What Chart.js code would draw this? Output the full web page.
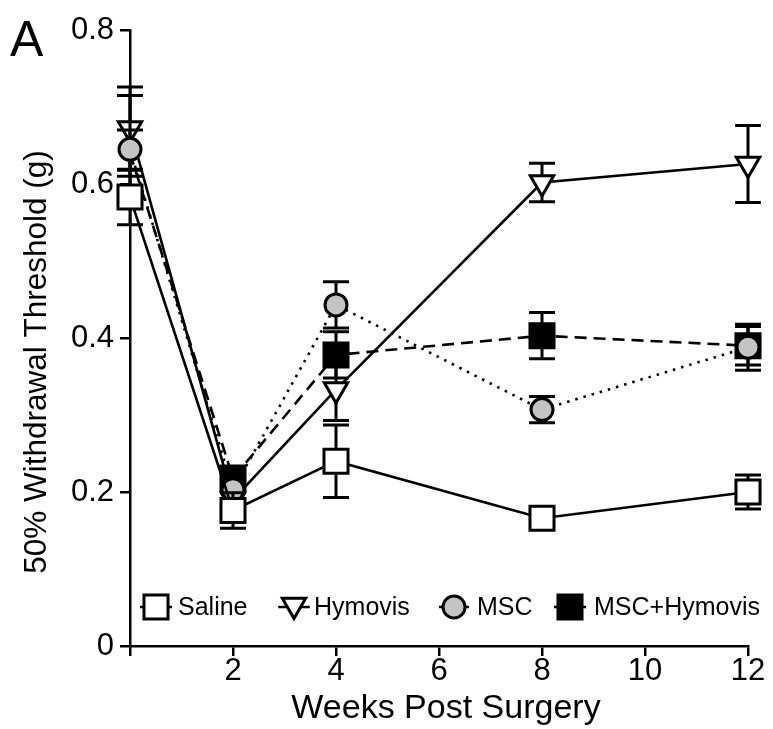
<!DOCTYPE html>
<html><head><meta charset="utf-8">
<script src="https://cdn.jsdelivr.net/npm/chart.js@4/dist/chart.umd.min.js"></script>
<style>html,body{margin:0;padding:0;background:#fff}#wrap{width:773px;height:729px}</style>
</head><body><div id="wrap"><canvas id="c" width="773" height="729"></canvas></div>
<script>
// ---- data ----
const weeks = [0, 2, 4, 8, 12];
const salineVals   = [0.583, 0.176, 0.240, 0.166, 0.200];
const salineErr    = [0.036, 0.023, 0.047, 0.010, 0.022];
const hymovisVals  = [0.672, 0.190, 0.333, 0.602, 0.626];
const hymovisErr   = [0.054, 0.015, 0.040, 0.025, 0.050];
const mscVals      = [0.645, 0.203, 0.443, 0.307, 0.388];
const mscErr       = [0.070, 0.015, 0.030, 0.017, 0.030];
const mscHyVals    = [0.640, 0.218, 0.378, 0.403, 0.390];
const mscHyErr     = [0.030, 0.015, 0.030, 0.030, 0.025];
const seriesNames  = ['Saline', 'Hymovis', 'MSC', 'MSC+Hymovis'];
const xTickValues  = [0, 2, 4, 6, 8, 10, 12];
const yTickValues  = [0, 0.2, 0.4, 0.6, 0.8];
const xTitle = 'Weeks Post Surgery';
const yTitle = '50% Withdrawal Threshold (g)';
const panelLabel = 'A';

const FONT = "'Liberation Sans', Arial, Helvetica, sans-serif";
const toPts = (vals) => vals.map((v, i) => ({x: weeks[i], y: v}));

// legend layout (pixel positions of marker centres and text starts)
const legendMarkerX = [156, 294, 454, 570];
const legendTextX   = [178, 314, 477, 594];
const legendY = 607;

const datasets = [
  {label: seriesNames[0], data: toPts(salineVals), err: salineErr, order: 0,
   pointStyle: 'rect', pointRadius: 17, pointBackgroundColor: '#ffffff', borderDash: []},
  {label: seriesNames[1], data: toPts(hymovisVals), err: hymovisErr, order: 3,
   pointStyle: 'triangle', pointRotation: 180, pointRadius: 13.5, pointBackgroundColor: '#ffffff', borderDash: []},
  {label: seriesNames[2], data: toPts(mscVals), err: mscErr, order: 1,
   pointStyle: 'circle', pointRadius: 11, pointBackgroundColor: '#c4c4c4', borderDash: [2.5, 6]},
  {label: seriesNames[3], data: toPts(mscHyVals), err: mscHyErr, order: 2,
   pointStyle: 'rect', pointRadius: (c) => c.dataIndex === 0 ? 0 : 17, pointBackgroundColor: '#000000', borderDash: [12, 7]}
].map(d => Object.assign({
  borderColor: '#000', pointBorderColor: '#000', borderWidth: 2.6, pointBorderWidth: 3,
  tension: 0, fill: false, showLine: true, pointHoverRadius: 0, clip: false
}, d));

const errorBars = {
  id: 'errorBars',
  beforeDatasetDraw(chart, args) {
    const ds = chart.data.datasets[args.index];
    const ys = chart.scales.y, ctx = chart.ctx;
    ctx.save();
    ctx.strokeStyle = '#000'; ctx.lineWidth = 3; ctx.setLineDash([]);
    args.meta.data.forEach((pt, i) => {
      const v = ds.data[i].y, e = ds.err[i];
      const top = ys.getPixelForValue(v + e), bot = ys.getPixelForValue(v - e);
      const x = pt.x, cw = 13;
      ctx.beginPath();
      ctx.moveTo(x, top); ctx.lineTo(x, bot);
      ctx.moveTo(x - cw, top); ctx.lineTo(x + cw, top);
      ctx.moveTo(x - cw, bot); ctx.lineTo(x + cw, bot);
      ctx.stroke();
    });
    ctx.restore();
  }
};

const decorations = {
  id: 'decorations',
  afterDraw(chart) {
    const ctx = chart.ctx;
    ctx.save();
    ctx.fillStyle = '#000';
    // panel label
    ctx.font = '50px ' + FONT; ctx.textAlign = 'left'; ctx.textBaseline = 'alphabetic';
    ctx.fillText(panelLabel, 10, 56);
    // x title
    ctx.font = '34px ' + FONT; ctx.textAlign = 'center';
    ctx.fillText(xTitle, 446, 718);
    // y title
    ctx.save();
    ctx.translate(46, 362); ctx.rotate(-Math.PI / 2);
    ctx.font = '31.5px ' + FONT; ctx.textAlign = 'center'; ctx.textBaseline = 'alphabetic';
    ctx.fillText(yTitle, 0, 0);
    ctx.restore();
    // legend inside plot area
    ctx.font = '25px ' + FONT; ctx.textBaseline = 'middle'; ctx.textAlign = 'left';
    chart.data.datasets.forEach((ds, i) => {
      const r = typeof ds.pointRadius === 'function' ? 17 : ds.pointRadius;
      const half = ds.pointStyle === 'rect' ? r * Math.SQRT1_2 : (ds.pointStyle === 'circle' ? r : r * 0.87);
      const cx = legendMarkerX[i];
      ctx.save();
      ctx.strokeStyle = '#000'; ctx.lineWidth = 2.5;
      ctx.beginPath(); ctx.moveTo(cx - half - 4, legendY); ctx.lineTo(cx + half + 4, legendY); ctx.stroke();
      ctx.fillStyle = ds.pointBackgroundColor; ctx.lineWidth = 3;
      Chart.helpers.drawPoint(ctx, {pointStyle: ds.pointStyle, radius: r, rotation: ds.pointRotation || 0, borderWidth: 3}, cx, legendY + (ds.pointStyle === 'triangle' ? -2 : 0));
      ctx.restore();
      ctx.fillStyle = '#000';
      ctx.fillText(ds.label, legendTextX[i], legendY + 1);
    });
    ctx.restore();
  }
};

new Chart(document.getElementById('c'), {
  type: 'scatter',
  data: {datasets},
  plugins: [errorBars, decorations],
  options: {
    responsive: false, animation: false, devicePixelRatio: 1,
    layout: {padding: {top: 30, right: 25, left: 0, bottom: 0}},
    plugins: {legend: {display: false}, tooltip: {enabled: false}},
    scales: {
      x: {
        type: 'linear', min: 0, max: 12,
        afterBuildTicks: (s) => { s.ticks = xTickValues.map(v => ({value: v})); },
        afterFit: (s) => { s.height = 83; },
        ticks: {color: '#000', font: {size: 31, family: FONT}, padding: -3, maxRotation: 0,
                callback: (v) => v === 0 ? '' : String(v)},
        grid: {drawOnChartArea: false, drawTicks: true, tickLength: 10, color: '#000', lineWidth: 2.5},
        border: {color: '#000', width: 2.5}
      },
      y: {
        min: 0, max: 0.8,
        afterBuildTicks: (s) => { s.ticks = yTickValues.map(v => ({value: v})); },
        afterFit: (s) => { s.width = 130; },
        ticks: {color: '#000', font: {size: 31, family: FONT}, padding: 6,
                callback: (v) => v === 0 ? '0' : v.toFixed(1)},
        grid: {drawOnChartArea: false, drawTicks: true, tickLength: 10, color: '#000', lineWidth: 2.5},
        border: {color: '#000', width: 2.5}
      }
    }
  }
});
</script></body></html>
